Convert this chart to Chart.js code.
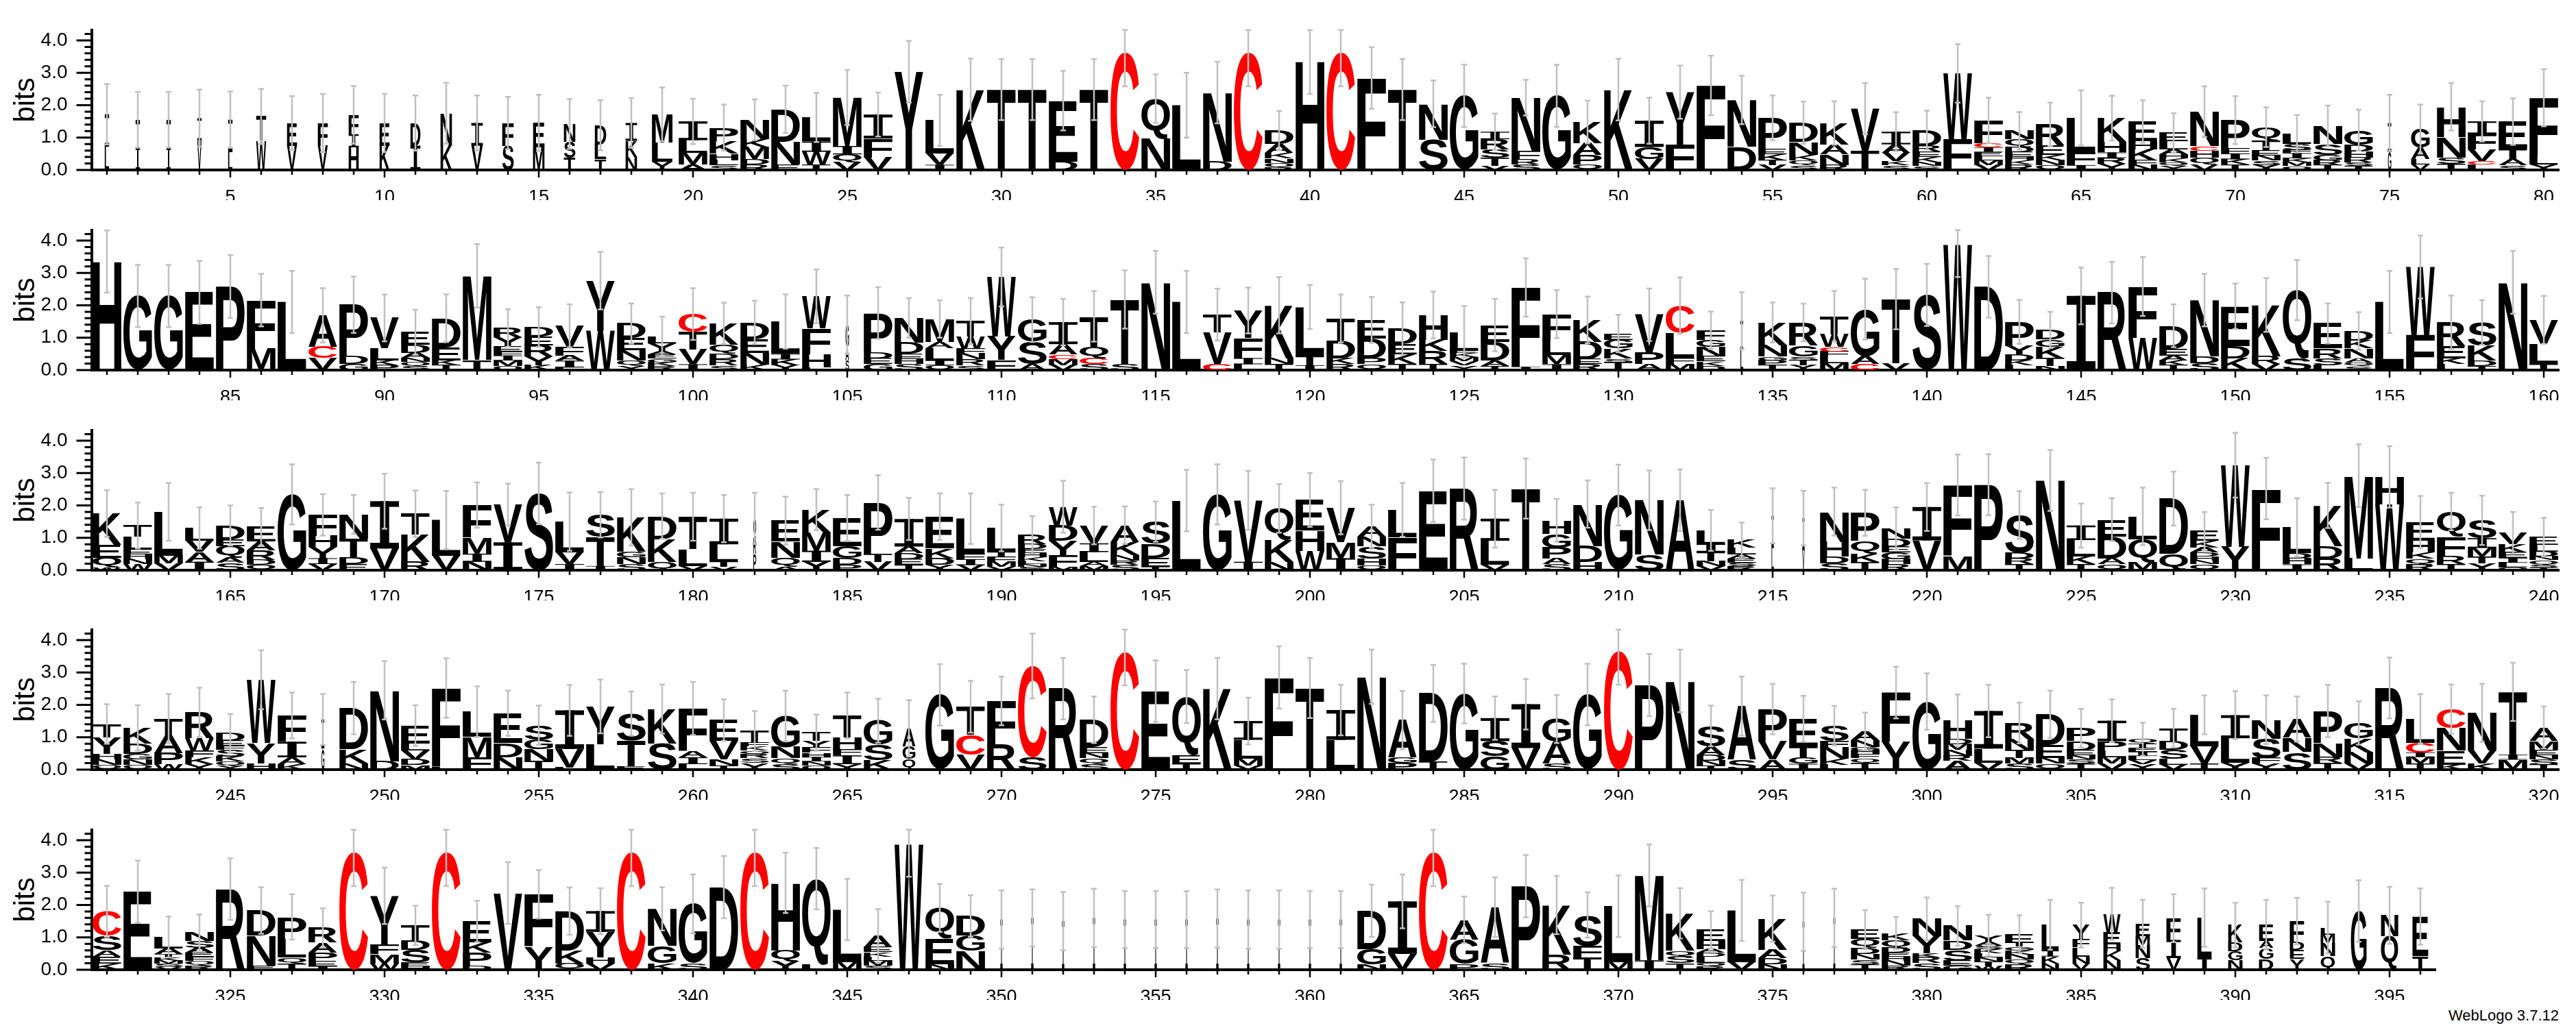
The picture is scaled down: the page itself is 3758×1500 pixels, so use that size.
<!DOCTYPE html>
<html>
<head>
<meta charset="utf-8">
<script src="https://cdn.jsdelivr.net/npm/chart.js@4.4.1/dist/chart.umd.min.js"></script>
<style>
  body { margin: 0; background: #fff; }
  #wrap { position: relative; width: 3758px; height: 1500px; background: #fff; overflow: hidden; }
  #wrap canvas { position: absolute; left: 0; }
  #credit { position: absolute; top: 1469px; right: 25px; font: 22px "Liberation Sans", Arial, sans-serif; color: #000; }
</style>
</head>
<body>
<div id="wrap">
  <canvas id="row1" width="3758" height="292" style="top:0px"></canvas>
  <canvas id="row2" width="3758" height="292" style="top:292px"></canvas>
  <canvas id="row3" width="3758" height="292" style="top:584px"></canvas>
  <canvas id="row4" width="3758" height="292" style="top:875px"></canvas>
  <canvas id="row5" width="3758" height="292" style="top:1167px"></canvas>
  <div id="credit">WebLogo 3.7.12</div>
</div>
<script>
// each column: letters top to bottom, with height in bits
const stacks1 = [
  "I1.0 L0.72", "T0.85 I0.7", "T0.85 I0.7", "I0.7 V0.9", "I1.0 L0.55",
  "T0.75 W0.9", "E0.7 V0.75", "F0.7 V0.75", "F0.6 I0.4 H0.7", "E0.7 K0.75",
  "D0.7 I0.75", "N1.0 K0.75", "I0.7 V0.75", "F0.7 S0.75", "E0.75 M0.7",
  "N0.55 S0.5 T0.37", "D0.6 L0.45 T0.33", "I0.55 K0.5 N0.4", "M0.87 L0.6 Y0.25", "I0.58 L0.4 M0.35 A0.17",
  "P0.42 K0.39 H0.2 L0.15 S0.15", "N0.6 K0.25 M0.37 D0.17 R0.16", "D1.0 N0.7 E0.17", "L0.74 I0.32 W0.39 T0.17", "M1.5 I0.26 Q0.24 V0.24",
  "I0.74 F0.58 V0.39", "Y3.03", "L1.03 V0.34 I0.16", "K2.48", "T2.48",
  "T2.48", "E1.88 D0.26", "T2.48", "C3.61", "Q1.23 N0.97",
  "L2.0", "N2.13 D0.26", "C3.61", "D0.42 A0.28 K0.17 N0.14 Q0.13 R0.08", "H3.35",
  "C3.61", "F2.84", "T2.48", "N1.1 S0.94", "G2.29",
  "I0.23 R0.32 S0.25 T0.25 V0.13", "N1.65 F0.24 R0.17 S0.17", "G2.29", "K0.65 A0.37 P0.3 Q0.16", "K2.48",
  "I0.81 G0.37 V0.34", "Y1.61 F0.79", "F2.61", "N1.45 D0.71", "P0.96 E0.17 K0.18 T0.15 V0.15",
  "D0.6 N0.39 K0.17 Q0.15 S0.15", "K0.66 A0.31 N0.33 R0.15", "V1.29 T0.6", "I0.39 A0.26 V0.26 K0.13 S0.14", "D0.48 R0.18 E0.17 K0.16 N0.12 S0.12",
  "W2.03 F0.95", "F0.71 C0.13 I0.13 E0.13 L0.13 M0.15 V0.15", "N0.26 Q0.23 D0.16 E0.15 H0.12 K0.13 R0.16", "R0.65 E0.29 K0.17 N0.15 Q0.15", "L1.06 F0.4 I0.15",
  "K0.74 H0.32 I0.17 R0.19 Y0.18", "E0.61 H0.24 K0.34 F0.15 N0.15", "E0.26 L0.25 A0.15 H0.12 K0.12 Q0.12 Y0.12", "N1.06 C0.15 H0.21 Q0.21 V0.17", "P0.87 F0.16 I0.18 K0.17 T0.16",
  "Q0.42 T0.29 E0.16 N0.15 S0.15 Y0.15", "L0.32 S0.18 F0.1 I0.16 K0.12 M0.12 Q0.12", "N0.55 S0.34 G0.17 R0.15 T0.15", "G0.45 D0.21 H0.18 R0.15 S0.12 T0.12", "I0.9 G0.55",
  "G0.58 A0.35 L0.17 V0.16", "H0.94 N0.63 S0.19 T0.19", "I0.39 F0.48 V0.35 C0.11 L0.17", "E0.84 T0.32 A0.18 S0.15", "F1.81 L0.26 Y0.16"
];
const errors1 = [
  .93, .86, .86, .88, .87, .85, .83, .9, .89, .9, .85, .94, .85, .81, .87, .77, .77, .77, .83, .7,
  .71, .63, .73, .76, .85, .68, .95, .79, .96, .94, .94, .92, .94, 1.03, .75, 1.0, .95, 1.03, .6, 1.0,
  1.03, .95, .94, .72, .96, .56, .55, .96, .66, .95, .71, .82, .92, .75, .69, .65, .67, .79, .6, .6,
  .9, .7, .58, .67, .85, .69, .66, .61, .78, .74, .61, .58, .63, .63, .87, .76, .73, .62, .72, .88
];

const stacks2 = [
  "H3.35", "G2.29", "G2.29", "E2.4", "P2.58",
  "F1.48 M0.68", "L2.1", "A0.97 C0.35 V0.37", "P1.6 D0.24 G0.18", "V0.94 L0.37 K0.15 P0.15",
  "E0.39 D0.25 A0.15 N0.12 Q0.13 S0.13", "D0.9 E0.4 K0.15 T0.15", "M2.6 T0.31", "R0.29 Y0.27 E0.17 F0.12 I0.15 M0.17 Q0.13", "D0.29 E0.27 R0.34 Y0.28 K0.15",
  "V0.65 F0.28 A0.15 I0.21 L0.08", "Y1.55 W1.21", "D0.45 E0.37 N0.32 Q0.18 Y0.12", "L0.22 Y0.24 A0.1 E0.12 G0.12 K0.12 R0.12", "C0.55 T0.55 V0.45 I0.18",
  "K0.65 Q0.29 D0.17 R0.18 S0.15", "D0.52 E0.43 N0.35 K0.17", "L1.0 I0.17 K0.18 Y0.15", "W1.0 F0.79 H0.41 L0.08", "G0.7 A0.4 S0.3",
  "P1.2 D0.2 E0.18 G0.18", "N0.77 D0.34 E0.17 H0.15 S0.18", "M0.71 A0.2 L0.37 I0.15 Q0.15", "T0.48 W0.37 F0.15 N0.18 R0.18 S0.15", "W1.84 Y0.72 F0.31",
  "G0.68 S0.7 A0.18", "I0.68 A0.32 C0.15 M0.18 V0.15", "T0.94 Q0.35 C0.19 S0.18", "T2.0 S0.18", "N2.71",
  "L2.1", "T0.55 V0.98 C0.18", "Y0.84 F0.63 I0.19 L0.18", "K1.63 N0.19 T0.18", "L1.5 T0.3 I0.15",
  "T0.68 D0.55 K0.18 R0.18", "E0.58 D0.61 P0.18 Q0.18", "D0.48 E0.31 K0.31 T0.18", "H0.77 K0.34 R0.41 T0.18", "L0.58 E0.08 K0.12 M0.12 V0.14 Y0.14",
  "E0.52 D0.57 A0.17 T0.13", "F2.45 I0.1", "F0.77 L0.5 M0.28 I0.18", "K0.68 D0.54 E0.15 R0.18", "E0.19 G0.27 K0.31 S0.12 T0.24",
  "V1.19 P0.34 A0.18", "C0.84 L0.79 F0.18 M0.18", "F0.29 G0.23 N0.29 E0.15 K0.14 D0.13", "I0.9 L0.62", "K0.71 N0.34 G0.12 P0.15 T0.15",
  "R0.71 G0.34 S0.12 T0.15 Y0.15", "T0.55 W0.39 C0.15 F0.15 L0.21 M0.21", "G1.45 A0.25 C0.18", "T1.98 V0.21", "S2.32",
  "W3.87", "D2.57", "P0.74 Y0.27 D0.18 K0.15 L0.15", "D0.29 G0.23 K0.35 T0.25 N0.12", "I2.29",
  "R2.39", "F1.58 W1.0", "D0.71 E0.21 A0.15 K0.15 T0.15", "N1.74 D0.21 S0.21", "E1.23 D0.37 K0.37",
  "K1.58 R0.25 V0.18", "Q2.1 S0.37", "E0.77 R0.31 S0.21 L0.15", "D0.29 K0.25 N0.31 A0.12 Q0.12 S0.12", "L2.1",
  "W2.1 F1.08", "R0.74 E0.37 K0.18 L0.18", "S0.71 K0.46 D0.17 T0.13", "N2.71", "V0.74 L0.63 T0.18"
];
const errors2 = [
  .96, .96, .96, .97, .97, .81, .96, .84, .87, .72, .69, .74, .98, .58, .61, .66, .89, .62, .61, .8,
  .64, .67, .84, .83, .9, .8, .61, .58, .71, .91, .69, .72, .78, .9, .97, .96, .8, .71, .87, .68,
  .74, .71, .81, .72, .8, .81, .9, .74, .72, .58, .81, .87, .58, .88, .62, .58, .78, .94, .93, .96,
  1.0, .95, .68, .56, .88, .95, .91, .66, .81, .7, .83, .93, .62, .58, .96, .97, .83, .69, .97, .74
];

const stacks3 = [
  "K0.97 E0.39 Q0.3 W0.09", "T0.35 L0.39 E0.15 H0.15 N0.15 W0.19", "L1.36 M0.23 V0.21", "L0.39 V0.34 A0.31 I0.26", "D0.42 E0.21 Q0.37 A0.15 S0.23",
  "E0.45 A0.27 R0.31 D0.15 Q0.16", "G2.34", "F0.65 H0.35 Y0.34 I0.18 V0.19", "N0.74 T0.58 D0.21 E0.19", "I1.46 V0.67",
  "T0.65 K0.83 R0.26", "L1.1 V0.45", "F1.0 M0.5 I0.25 N0.26", "V1.16 I0.86", "S2.37",
  "L0.94 V0.37 I0.19", "S0.68 T0.9 I0.13", "K1.06 G0.17 N0.21 S0.19", "D0.71 K0.7 Q0.26", "T1.0 L0.52 V0.13",
  "I0.79 L0.55 T0.15 V0.1", "Q0.6 R0.5 P0.5", "E0.65 N0.5 Q0.28 A0.1", "K0.71 M0.56 I0.34 Y0.26", "E0.87 G0.37 D0.21 P0.16",
  "P1.58 T0.25 V0.26", "I0.85 A0.21 D0.18 E0.18 T0.16", "E0.97 K0.31 D0.21 Y0.16", "L1.1 F0.15 I0.18 V0.16", "L0.75 T0.15 F0.15 M0.15 V0.1",
  "R0.29 D0.15 E0.12 H0.12 K0.13 L0.1 N0.08 S0.1", "W0.58 D0.48 Y0.46 F0.34 M0.1", "V0.55 I0.27 L0.31 A0.12 M0.13", "A0.52 K0.41 N0.16 R0.14 S0.16", "S0.68 D0.44 E0.28 T0.1",
  "L2.15", "G2.34", "V1.9 I0.26", "Q0.98 K0.68 N0.25", "E0.95 H0.63 W0.59",
  "V1.06 M0.5 I0.37", "A0.32 N0.31 S0.37 H0.21 Q0.15", "L0.85 F1.01", "E2.45", "R2.52",
  "I0.68 L0.74 V0.17", "T2.52", "H0.42 G0.42 P0.34 A0.18 S0.18", "N1.29 D0.5 H0.25", "G2.32",
  "N1.68 S0.48", "A2.16", "L0.42 I0.24 T0.3 N0.15 V0.12", "K0.23 L0.21 A0.12 E0.12 S0.12 R0.12", "I1.0 L0.68",
  "I1.0 V0.61", "N0.94 H0.45 D0.21 S0.21", "P0.87 Q0.4 K0.25 T0.25", "N0.32 D0.25 E0.18 G0.21 H0.15 R0.18", "I1.03 V0.92",
  "F2.19 M0.44", "P2.64", "S1.16 D0.18 R0.18 T0.18", "N2.77", "I0.45 L0.5 K0.25 T0.18",
  "E0.52 D0.68 A0.18 Q0.18", "L0.71 Q0.7 M0.25", "D1.71 Q0.5", "E0.31 K0.21 A0.15 D0.12 H0.12 N0.12 Q0.18", "W2.52 Y0.72",
  "F2.52", "L0.8 D0.16 H0.18 I0.18", "K1.26 D0.37 R0.37", "M2.55 L0.37", "H0.85 W2.03",
  "E0.58 H0.37 K0.18 Q0.18 R0.18", "Q0.77 F0.61 R0.25 T0.18", "S0.55 I0.3 M0.27 T0.21 Y0.21", "V0.35 K0.24 E0.18 I0.15 L0.15 Q0.08", "E0.23 L0.21 D0.15 N0.12 Q0.15 S0.08 T0.08"
];
const errors3 = [
  .72, .71, .89, .64, .62, .58, .93, .64, .6, .85, .72, .9, .7, .65, .95, .9, .7, .87, .7, .74,
  .73, .79, .74, .63, .71, .84, .65, .72, .78, .72, .58, .8, .58, .58, .62, .95, .93, .91, .75, .83,
  .82, .66, .83, .96, .96, .89, .93, .66, .73, .94, .92, .95, .63, .55, .85, .84, .74, .71, .65, .74,
  .94, .94, .74, .94, .68, .66, .89, .83, .59, 1.0, .95, .9, .7, .97, .95, .8, .58, .76, .65, .6
];

const stacks4 = [
  "T0.42 Y0.5 H0.17 N0.17 Q0.15", "K0.48 D0.32 G0.17 N0.17 Q0.15", "T0.52 A0.55 P0.34 W0.17", "R0.81 W0.37 F0.21 K0.21 Y0.17", "D0.23 E0.15 F0.12 S0.22 K0.15 Q0.13 Y0.12",
  "W1.94 Y0.63 H0.2", "F0.81 I0.48 A0.21 K0.17", "I0.9 G0.65", "D1.26 K0.44 N0.2", "N2.19 D0.26",
  "E0.55 L0.22 V0.27 D0.18 M0.14", "F2.44 L0.08", "L0.77 M0.63 F0.39", "E0.92 D0.43 N0.39", "S0.45 G0.29 N0.37 T0.26",
  "I1.19 V0.57 L0.07", "Y1.16 L0.79", "S0.84 T0.79 E0.1", "K1.06 S0.81", "F1.31 A0.2 I0.21 L0.17",
  "E0.65 V0.57 N0.18 T0.13", "T0.35 F0.13 K0.12 Q0.12 R0.12 S0.15 Y0.2", "G0.97 N0.34 Q0.18 S0.17", "T0.26 Y0.21 F0.15 H0.13 I0.13 N0.13 Q0.13", "T0.68 H0.37 F0.18 I0.27 Y0.17",
  "G0.74 S0.47 K0.3", "A0.55 G0.39 Q0.33", "G2.31", "T0.87 C0.61 V0.46", "F1.34 R0.78",
  "C2.81 S0.39", "R2.5", "D0.84 E0.2 N0.15 Q0.18 S0.17", "C3.63", "E2.42",
  "Q1.81 E0.25 T0.2", "K2.5", "I0.58 L0.58 M0.21 V0.13", "F2.85", "T2.52",
  "I0.92 L0.92", "N2.87", "A1.16 G0.16 P0.21", "D2.1 T0.25", "G2.35",
  "I0.71 S0.47 G0.41", "I1.35 V0.67", "G0.71 A0.67 S0.18", "G2.32", "C3.65",
  "P2.61", "N2.74", "S0.63 A0.27 D0.18 N0.15 T0.12", "A1.65 S0.31", "P1.0 V0.56 A0.31",
  "E0.87 T0.34 G0.18 I0.18", "S0.48 F0.21 N0.34 K0.18 L0.15", "A0.27 N0.21 G0.1 H0.12 F0.12 Q0.15 T0.21", "F1.52 Y0.86", "G2.1",
  "H0.56 D0.17 M0.18 N0.18 R0.15 A0.28", "I1.16 L0.44 V0.21", "R0.5 N0.34 T0.24 M0.18 S0.18", "D0.94 E0.41 N0.18 Q0.18", "P0.4 D0.28 E0.15 N0.13 S0.14 T0.18",
  "I0.63 P0.28 L0.21 M0.21 V0.18", "Q0.13 T0.13 E0.13 I0.13 L0.13 V0.12 Y0.17", "T0.39 D0.28 S0.28 L0.18 V0.15", "L0.97 V0.54 T0.18", "I0.71 L0.76 Y0.21",
  "N0.58 S0.6 F0.18 Y0.18", "A0.58 N0.44 S0.54", "P0.98 N0.44 R0.18 T0.21", "G0.48 K0.44 N0.34 V0.18", "R2.52",
  "L0.74 C0.3 I0.14 M0.21 T0.18", "C0.58 N0.7 E0.44 K0.15", "N1.16 V0.41 K0.18", "T1.94 I0.15 M0.31", "A0.42 M0.28 E0.15 N0.13 S0.17 T0.15"
];
const errors4 = [
  .61, .7, .76, .76, .6, .91, .71, .79, .81, .9, .63, .92, .78, .7, .61, .79, .83, .68, .76, .82,
  .64, .62, .78, .56, .71, .68, .87, .95, .8, .75, 1.0, .95, .72, 1.03, .95, .82, .95, .72, .96, .93,
  .78, .84, .9, .88, .92, .67, .78, .74, .95, 1.03, .96, .97, .63, .91, .78, .71, .61, .58, .8, .87,
  .8, .81, .63, .73, .6, .66, .51, .6, .6, .74, .75, .7, .81, .67, .94, .76, .76, .9, .9, .65
];

const stacks5 = [
  "C0.75 S0.45 A0.19 E0.21 K0.2", "E2.41", "L0.35 A0.18 T0.1 K0.1 M0.1 S0.1 V0.08", "N0.26 S0.21 A0.15 E0.12 F0.12 Q0.15 R0.13", "R2.49",
  "D0.78 N0.92 E0.13", "P0.69 L0.56 Q0.18 T0.2", "R0.45 A0.31 P0.28 E0.15 I0.1", "C3.61", "Y1.51 F0.29 M0.28 W0.2",
  "T0.45 D0.3 S0.4 E0.12 H0.1", "C3.61", "E0.64 K0.32 P0.4 D0.13", "V2.37", "F1.62 Y0.71",
  "D1.21 K0.4 Q0.2", "I0.64 Y0.79 H0.18 V0.2", "C3.61", "N1.15 G0.53 K0.2", "G1.83 S0.2",
  "D2.55", "C3.61", "H2.08 Q0.34 Y0.26", "Q2.66 L0.15", "L1.63 M0.23",
  "A0.35 E0.15 K0.13 L0.13 M0.15 S0.13", "W3.87", "Q0.96 E0.78 N0.17", "D0.61 G0.47 N0.58", "I1.55",
  "I1.6", "I1.5", "I1.6", "I1.55", "I1.55",
  "I1.55", "I1.58", "I1.55", "I1.55", "I1.55",
  "I1.55", "D1.19 G0.46 N0.17", "I1.62 V0.49", "C3.61", "A0.61 G0.76 P0.17",
  "A1.73 S0.2", "P2.58", "K1.54 R0.46", "S0.96 F0.34 T0.39", "L1.73 M0.23",
  "M2.62 I0.29", "K1.15 Q0.18 S0.21 T0.2", "E0.35 H0.24 A0.12 D0.12 L0.18 Q0.12 R0.1", "L1.6 V0.23", "K0.96 A0.27 D0.18 N0.17",
  "I1.48", "I1.6", "E0.29 Q0.27 D0.2 N0.16 S0.15 T0.17", "K0.22 Q0.24 D0.15 E0.12 H0.12 N0.15 R0.13", "N0.54 Y0.53 K0.12 R0.18 S0.2",
  "N0.45 D0.28 S0.34 E0.15 G0.13", "Y0.19 A0.12 S0.12 K0.12 L0.13 N0.13 T0.12 W0.13", "E0.26 T0.12 G0.12 K0.12 N0.15 Q0.15 R0.17", "L0.8 I0.18 K0.21 N0.2", "Y0.45 F0.24 L0.28 N0.21 V0.2",
  "W0.58 E0.37 H0.21 K0.28 N0.29", "E0.38 M0.28 N0.4 S0.36", "F0.67 I0.56 V0.36", "L1.25 I0.36", "K0.53 D0.28 G0.28 N0.29",
  "E0.51 A0.21 G0.34 D0.33", "F0.65 D0.24 E0.28 Y0.33", "L0.22 M0.26 N0.4 Q0.42", "G1.81", "N0.64 Q1.04",
  "E1.22 T0.42"
];
const errors5 = [
  .79, .96, .63, .57, .95, .72, .7, .61, 1.03, .87, .61, 1.03, .64, .95, .75, .73, .71, 1.03, .67, .91,
  .96, 1.03, .93, .95, .95, .83, 1.0, .74, .64, .9, .88, .9, .9, .88, .88, .88, .9, .9, .9, .88,
  .88, .81, .83, 1.03, .72, .92, .96, .9, .7, .95, .96, .78, .58, .94, .71, .9, .9, .6, .5, .66,
  .61, .64, .59, .77, .69, .8, .74, .74, .9, .69, .77, .72, .8, .95, .88, .87
];

// columns with many gaps are drawn narrower: [from, to, width fraction]
const narrowCols = [
  [1, 5, 0.15], [6, 11, 0.35], [12, 18, 0.4], [19, 19, 0.72], [75, 75, 0.12], [76, 76, 0.65],
  [105, 105, 0.12], [134, 134, 0.1], [182, 182, 0.1], [215, 216, 0.08], [248, 248, 0.1], [267, 267, 0.45],
  [350, 361, 0.08], [376, 377, 0.07], [384, 386, 0.6], [387, 393, 0.5], [394, 394, 0.55], [395, 395, 0.6], [396, 396, 0.55]
];

const MAXBITS = 4.32;
const FAMILY = '"Liberation Sans", Arial, sans-serif';
const GLYPH_FONT = 'bold 200px ' + FAMILY;
const rowInfo = {};
const boxes = {};

function widthOf(pos) {
  for (const [a, b, f] of narrowCols) if (pos >= a && pos <= b) return f;
  return 1;
}

function glyphBox(ctx, ch) {
  if (!boxes[ch]) {
    ctx.font = GLYPH_FONT;
    const m = ctx.measureText(ch);
    boxes[ch] = {
      left: m.actualBoundingBoxLeft, w: m.actualBoundingBoxLeft + m.actualBoundingBoxRight,
      asc: m.actualBoundingBoxAscent, h: m.actualBoundingBoxAscent + m.actualBoundingBoxDescent
    };
  }
  return boxes[ch];
}

function drawGlyph(ctx, ch, x, y, w, h) {
  ctx.save();
  ctx.fillStyle = ch === 'C' ? '#ff0000' : '#000000';
  if (ch === 'I') {
    // serif I, like the logo font
    const bar = h * 0.12, stem = w * 0.32;
    ctx.fillRect(x, y, w, bar);
    ctx.fillRect(x, y + h - bar, w, bar);
    ctx.fillRect(x + (w - stem) / 2, y, stem, h);
    ctx.restore();
    return;
  }
  const b = glyphBox(ctx, ch);
  ctx.font = GLYPH_FONT;
  ctx.textAlign = 'left';
  ctx.textBaseline = 'alphabetic';
  ctx.translate(x, y);
  ctx.scale(w / b.w, h / b.h);
  ctx.fillText(ch, b.left, b.asc);
  ctx.restore();
}

const logoPlugin = {
  id: 'logo',
  afterDatasetsDraw(chart) {
    const info = rowInfo[chart.canvas.id];
    const ctx = chart.ctx;
    const y = chart.scales.y;
    info.cols.forEach((col, i) => {
      const frac = widthOf(info.first + i);
      col.forEach((g, k) => {
        if (!(g.h > 0)) return;
        const p = chart.getDatasetMeta(k).data[i].getProps(['x', 'y', 'base', 'width'], true);
        const w = p.width * frac;
        drawGlyph(ctx, g.ch, p.x - w / 2, Math.min(p.y, p.base), w, Math.abs(p.base - p.y));
      });
    });
    // error bars
    ctx.save();
    ctx.strokeStyle = '#c0c0c0';
    info.cols.forEach((col, i) => {
      const total = col.reduce((s, g) => s + g.h, 0);
      const e = info.errs[i];
      const x = chart.getDatasetMeta(0).data[i].x;
      const yt = y.getPixelForValue(Math.min(total + e, MAXBITS));
      const yb = y.getPixelForValue(Math.max(total - e, 0));
      ctx.lineWidth = 2.5;
      ctx.beginPath();
      ctx.moveTo(x, yt); ctx.lineTo(x, yb);
      ctx.moveTo(x - 4, yt); ctx.lineTo(x + 4, yt);
      ctx.moveTo(x - 4, yb); ctx.lineTo(x + 4, yb);
      ctx.stroke();
    });
    ctx.restore();
  },
  afterDraw(chart) {
    const info = rowInfo[chart.canvas.id];
    const ctx = chart.ctx;
    const { x, y } = chart.scales;
    const area = chart.chartArea;
    ctx.save();
    ctx.strokeStyle = '#000';
    ctx.lineWidth = 2.5;
    ctx.beginPath();
    for (let i = 0; i < info.cols.length; i++) {
      const px = x.getPixelForValue(i);
      const len = (info.first + i) % 5 === 0 ? 11 : 7;
      ctx.moveTo(px, area.bottom); ctx.lineTo(px, area.bottom + len);
    }
    ctx.stroke();
    ctx.lineWidth = 3;
    ctx.beginPath();
    for (let k = 0; k <= 21; k++) {
      const py = y.getPixelForValue(k * 0.2);
      const len = k % 5 === 0 ? 22 : 10;
      ctx.moveTo(area.left - len, py); ctx.lineTo(area.left, py);
    }
    ctx.stroke();
    ctx.fillStyle = '#000';
    ctx.font = '42px ' + FAMILY;
    ctx.textAlign = 'center';
    ctx.textBaseline = 'alphabetic';
    ctx.translate(50, (area.top + area.bottom) / 2);
    ctx.rotate(-Math.PI / 2);
    ctx.fillText('bits', 0, 0);
    ctx.restore();
  }
};

function makeRow(id, first, stacks, errs, padRight) {
  const cols = stacks.map(s => s.trim().split(/\s+/).map(t => ({ ch: t[0], h: parseFloat(t.slice(1)) })).reverse());
  rowInfo[id] = { first: first, cols: cols, errs: errs };
  const depth = Math.max(...cols.map(c => c.length));
  const datasets = [];
  for (let k = 0; k < depth; k++) {
    datasets.push({
      data: cols.map(c => (c[k] ? c[k].h : 0)),
      backgroundColor: 'rgba(0,0,0,0)',
      borderWidth: 0,
      barPercentage: 0.93,
      categoryPercentage: 1
    });
  }
  new Chart(document.getElementById(id).getContext('2d'), {
    type: 'bar',
    data: { labels: cols.map((c, i) => String(first + i)), datasets: datasets },
    options: {
      responsive: false,
      animation: false,
      events: [],
      layout: { padding: { top: 24, right: padRight, left: 0, bottom: 0 } },
      plugins: { legend: { display: false }, tooltip: { enabled: false } },
      scales: {
        x: {
          stacked: true,
          offset: true,
          grid: { display: false },
          border: { display: true, color: '#000', width: 4 },
          ticks: {
            autoSkip: false, maxRotation: 0, padding: 16, color: '#000',
            font: { family: FAMILY, size: 27 },
            callback: (v, i) => ((first + i) % 5 === 0 ? String(first + i) : '')
          },
          afterFit: s => { s.height = 44; }
        },
        y: {
          stacked: true,
          min: 0,
          max: MAXBITS,
          grid: { display: false },
          border: { display: true, color: '#000', width: 4 },
          ticks: {
            stepSize: 1, includeBounds: false, padding: 27, color: '#000',
            font: { family: FAMILY, size: 28 },
            callback: v => v.toFixed(1)
          },
          afterFit: s => { s.width = 133.5; }
        }
      }
    },
    plugins: [logoPlugin]
  });
}

makeRow('row1', 1, stacks1, errors1, 24.5);
makeRow('row2', 81, stacks2, errors2, 24.5);
makeRow('row3', 161, stacks3, errors3, 24.5);
makeRow('row4', 241, stacks4, errors4, 24.5);
makeRow('row5', 321, stacks5, errors5, 204.5);
</script>
</body>
</html>
